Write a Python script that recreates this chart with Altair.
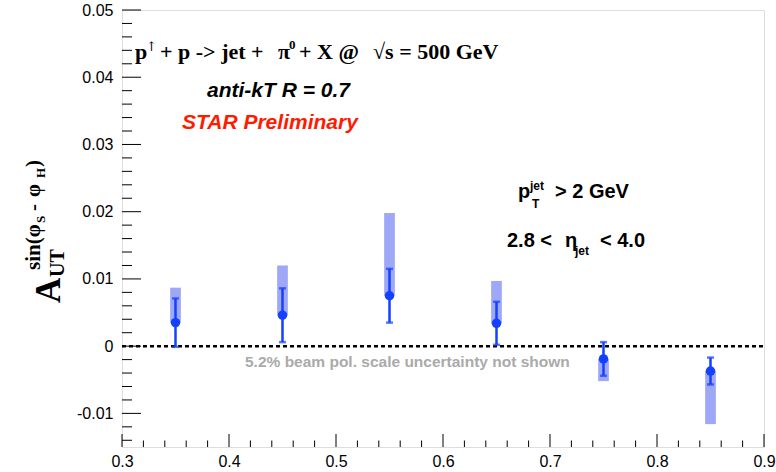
import altair as alt
import pandas as pd

# Azimuthal asymmetry vs. z (jet + pi0 at forward rapidity)
z_bins = [0.35, 0.45, 0.55, 0.65, 0.75, 0.85]
a_ut = [0.0035, 0.0046, 0.0075, 0.0034, -0.0019, -0.0037]
stat_err = [0.0036, 0.0040, 0.0040, 0.0032, 0.0025, 0.0020]
sys_edge = [0.0087, 0.0120, 0.0198, 0.0097, -0.0052, -0.0116]
sys_halfwidth = 0.005

x_major = [0.3, 0.4, 0.5, 0.6, 0.7, 0.8, 0.9]
y_major = [-0.01, 0, 0.01, 0.02, 0.03, 0.04, 0.05]
x_minor = [round(0.3 + 0.02 * i, 2) for i in range(31)]
x_minor = [v for v in x_minor if v not in x_major]
y_minor = [round(-0.014 + 0.002 * i, 3) for i in range(33)]
y_minor = [v for v in y_minor if v not in y_major]
zero_line = [0.0]

W, H = 642, 437
BLUE = "#1440ff"
BOX = "#9ea8f7"
SERIF = "Liberation Serif"
SANS = "Liberation Sans"

df = pd.DataFrame({"z": z_bins, "a": a_ut, "err": stat_err, "sys": sys_edge})
df["lo"] = df["a"] - df["err"]
df["hi"] = df["a"] + df["err"]
df["bx0"] = df["z"] - sys_halfwidth
df["bx1"] = df["z"] + sys_halfwidth

x_scale = alt.Scale(domain=[0.3, 0.9], nice=False, zero=False)
y_scale = alt.Scale(domain=[-0.015, 0.05], nice=False, zero=False)

x_axis = alt.Axis(values=x_major, labelExpr="'' + datum.value", ticks=False,
                  domain=False, grid=False, labelFont=SANS, labelFontSize=16,
                  labelColor="black", labelPadding=6, labelFlush=False,
                  labelOverlap=False, title=None)
y_axis = alt.Axis(values=y_major, labelExpr="'' + datum.value", ticks=False,
                  domain=False, grid=False, labelFont=SANS, labelFontSize=16,
                  labelColor="black", labelPadding=9, labelOverlap=False,
                  title=None)


def X(field):
    return alt.X(field, type="quantitative", scale=x_scale, axis=x_axis)


def Y(field):
    return alt.Y(field, type="quantitative", scale=y_scale, axis=y_axis)


base = alt.Chart(df)

# systematic bands: from the central value out to the systematic edge
boxes = base.mark_rect(color=BOX).encode(
    x=X("bx0"), x2="bx1", y=Y("a"), y2="sys")

zero = alt.Chart(pd.DataFrame({"v": zero_line})).mark_rule(
    color="black", strokeDash=[4, 3], strokeWidth=2.5).encode(
    y=Y("v"), x=alt.value(0), x2=alt.value(W))

bars = base.mark_rule(color=BLUE, strokeWidth=2.5).encode(
    x=X("z"), y=Y("lo"), y2="hi")
cap_lo = base.mark_tick(color=BLUE, orient="horizontal", size=7,
                        thickness=2.5).encode(x=X("z"), y=Y("lo"))
cap_hi = base.mark_tick(color=BLUE, orient="horizontal", size=7,
                        thickness=2.5).encode(x=X("z"), y=Y("hi"))
points = base.mark_point(filled=True, shape="circle", size=90, color=BLUE,
                         opacity=1).encode(x=X("z"), y=Y("a"))

# inward-pointing frame ticks
def yticks(vals, length):
    return alt.Chart(pd.DataFrame({"v": vals})).mark_rule(
        color="black", strokeWidth=1).encode(
        y=Y("v"), x=alt.value(0), x2=alt.value(length))


def xticks(vals, length):
    return alt.Chart(pd.DataFrame({"v": vals})).mark_rule(
        color="black", strokeWidth=1).encode(
        x=X("v"), y=alt.value(H), y2=alt.value(H - length))


def label(txt, px, py, size, font=SANS, color="black", style="normal",
          angle=0, weight="bold"):
    return alt.Chart(pd.DataFrame({"t": [txt]})).mark_text(
        align="left", baseline="alphabetic", fontSize=size, font=font,
        fontWeight=weight, fontStyle=style, color=color, angle=angle).encode(
        x=alt.value(px), y=alt.value(py), text="t:N")


texts = [
    # reaction
    label("p", 13, 49, 22, SERIF),
    label("\u2191", 24, 41, 13, "DejaVu Serif", weight="normal"),
    label("+ p -> jet +", 38, 49, 22, SERIF),
    label("\u03c0", 156, 49, 22, SERIF),
    label("0", 167, 39, 13, SERIF),
    label("+ X @", 177, 49, 22, SERIF),
    label("\u221as = 500 GeV", 251, 49, 22, SERIF),
    label("anti-kT R = 0.7", 85, 87, 21, style="italic"),
    label("STAR Preliminary", 60, 119, 21, color="#ff1a00", style="italic"),
    # kinematic cuts
    label("p", 396, 188, 20),
    label("jet", 408, 180, 12),
    label("T", 410, 198, 12),
    label("> 2 GeV", 433, 188, 20),
    label("2.8 <", 385, 237, 20),
    label("\u03b7", 443, 237, 20),
    label("jet", 453, 245, 12),
    label("< 4.0", 478, 237, 20),
    label("5.2% beam pol. scale uncertainty not shown", 123, 357, 15.5,
          color="#aaaaaa"),
    # y-axis title, rotated
    label("A", -62, 293, 35, SERIF, angle=270),
    label("UT", -58, 267, 20, SERIF, angle=270),
    label("sin(\u03c6", -82, 260, 21, SERIF, angle=270),
    label("S", -77, 213, 13, SERIF, angle=270),
    label("-", -82, 201, 21, SERIF, angle=270),
    label("\u03c6", -82, 187, 21, SERIF, angle=270),
    label("H", -77, 168, 13, SERIF, angle=270),
    label(")", -82, 157, 21, SERIF, angle=270),
]

chart = alt.layer(
    boxes, zero, bars, cap_lo, cap_hi, points,
    yticks(y_major, 19), yticks(y_minor, 10),
    xticks(x_major, 13), xticks(x_minor, 6.5),
    *texts,
).properties(
    width=W, height=H,
    autosize=alt.AutoSizeParams(type="none"),
    padding={"left": 122, "top": 10, "right": 12, "bottom": 25},
).configure_view(
    stroke="black", strokeWidth=1
).configure(background="white")

chart.save("out.html", embed_options={"renderer": "svg", "actions": False})
